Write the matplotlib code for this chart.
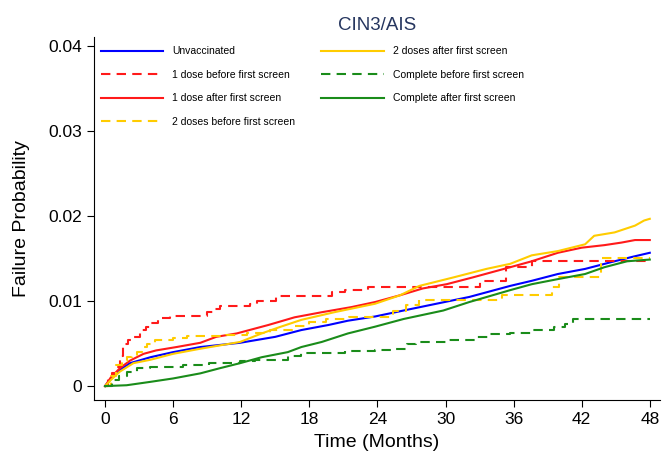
import matplotlib
matplotlib.use("Agg")
import matplotlib.pyplot as plt

plt.rcParams['font.family'] = ['Liberation Sans', 'DejaVu Sans']

# Unvaccinated (solid blue)
unvac_t = [0, 0.5, 1.3, 2.2, 4, 6, 8.4, 11.9, 15, 17.3, 19.7, 21.4, 23.8, 26.3, 29.2, 32.1,
           35.7, 37.6, 39.9, 42.3, 44.6, 46.4, 48]
unvac_p = [0, 0.0008, 0.0019, 0.0027, 0.0034, 0.0040, 0.0046, 0.0051, 0.0058, 0.0066, 0.0072,
           0.0077, 0.0082, 0.0089, 0.0097, 0.0105, 0.0118, 0.0124, 0.0132, 0.0138, 0.0146,
           0.0152, 0.0157]

# 1 dose before first screen (dashed red, steps)
d1b_t = [0, 0.3, 0.6, 1.0, 1.3, 1.6, 2.0, 2.4, 3.1, 3.6, 4.0, 4.7, 5.7, 9.0, 9.6, 10.1, 12.8,
         13.4, 15.1, 20.0, 21.1, 23.2, 33.0, 35.3, 37.6, 48]
d1b_p = [0, 0.0008, 0.0015, 0.0023, 0.0035, 0.0050, 0.0054, 0.0058, 0.0066, 0.0070, 0.0074,
         0.0080, 0.0082, 0.0087, 0.0091, 0.0094, 0.0097, 0.0100, 0.0106, 0.0111, 0.0113,
         0.0117, 0.0124, 0.0140, 0.0147, 0.0147]

# 1 dose after first screen (solid red)
d1a_t = [0, 0.5, 1.3, 2.2, 3.4, 4.5, 6.3, 8.4, 9.8, 11.6, 14.4, 16.7, 19.1, 21.7, 23.8, 26, 28,
         30.1, 32.4, 35.7, 37.6, 39.9, 42, 44, 45.5, 46.7, 48]
d1a_p = [0, 0.0010, 0.0021, 0.0030, 0.0038, 0.0042, 0.0046, 0.0051, 0.0058, 0.0062, 0.0072,
         0.0081, 0.0087, 0.0093, 0.0099, 0.0107, 0.0115, 0.0120, 0.0128, 0.0140, 0.0147,
         0.0157, 0.0163, 0.0166, 0.0169, 0.0172, 0.0172]

# 2 doses before first screen (dashed yellow, steps)
d2b_t = [0, 0.5, 1.0, 1.5, 1.9, 2.4, 2.8, 3.3, 3.7, 4.4, 6.0, 7.2, 10.7, 12.5, 14.5, 16.5, 18.0,
         19.5, 21.5, 25.4, 26.5, 27.7, 35.0, 39.4, 40.0, 43.7, 48]
d2b_p = [0, 0.0012, 0.0025, 0.0030, 0.0034, 0.0037, 0.0040, 0.0046, 0.0050, 0.0054, 0.0057,
         0.0059, 0.0060, 0.0062, 0.0066, 0.0071, 0.0075, 0.0079, 0.0081, 0.0089, 0.0095,
         0.0101, 0.0107, 0.0117, 0.0129, 0.0151, 0.0151]

# 2 doses after first screen (solid yellow)
d2a_t = [0, 0.5, 1.3, 2.5, 4, 6, 8.4, 11.9, 13.8, 15.5, 17.3, 20.2, 23.8, 26, 27.7, 30.7, 33.6,
         35.7, 37.6, 39.9, 42.3, 43.1, 44.9, 46.7, 47.5, 48]
d2a_p = [0, 0.0007, 0.0017, 0.0027, 0.0031, 0.0038, 0.0044, 0.0052, 0.0062, 0.0070, 0.0078,
         0.0087, 0.0097, 0.0107, 0.0118, 0.0128, 0.0138, 0.0144, 0.0154, 0.0159, 0.0167,
         0.0177, 0.0181, 0.0189, 0.0195, 0.0197]

# Complete before first screen (dashed green, steps)
cb_t = [0, 0.6, 1.2, 1.9, 2.8, 4.0, 6.9, 9.2, 11.9, 13.2, 16.1, 17.3, 21.1, 23.8, 25.4, 26.6,
        27.4, 30.1, 32.7, 33.9, 35.7, 37.6, 39.6, 40.5, 41.2, 48]
cb_p = [0, 0.0007, 0.0012, 0.0017, 0.0021, 0.0023, 0.0025, 0.0027, 0.0029, 0.0031, 0.0036,
        0.0039, 0.0041, 0.0042, 0.0044, 0.0049, 0.0052, 0.0054, 0.0058, 0.0061, 0.0062,
        0.0066, 0.0070, 0.0073, 0.0079, 0.0079]

# Complete after first screen (solid green)
ca_t = [0, 1.9, 4, 6, 8.4, 10.1, 11.9, 13.8, 16.1, 17.3, 19.1, 21.4, 23.8, 26.3, 29.8, 32.1,
        35.7, 37.6, 39.9, 42.3, 44, 46, 48]
ca_p = [0, 0.0001, 0.0005, 0.0009, 0.0015, 0.0021, 0.0027, 0.0034, 0.0040, 0.0046, 0.0052,
        0.0062, 0.0070, 0.0079, 0.0089, 0.0099, 0.0113, 0.0120, 0.0126, 0.0132, 0.0140,
        0.0147, 0.0149]

x_ticks = [0, 6, 12, 18, 24, 30, 36, 42, 48]
y_ticks = [0, 0.01, 0.02, 0.03, 0.04]
y_labels = ['0', '0.01', '0.02', '0.03', '0.04']

blue = '#0000ff'
red = '#ff1a1a'
yellow = '#ffcc00'
green = '#1a8c1a'
dash = (0, (4.5, 3))
lw = 1.5

fig = plt.figure(figsize=(6.64, 4.58), dpi=100)
ax = fig.add_axes([0.1416, 0.1266, 0.994 - 0.1416, 0.919 - 0.1266])

ax.plot(unvac_t, unvac_p, color=blue, lw=lw, label='Unvaccinated')
ax.plot(d1b_t, d1b_p, color=red, lw=lw, ls=dash, drawstyle='steps-post',
        label='1 dose before first screen')
ax.plot(d1a_t, d1a_p, color=red, lw=lw, label='1 dose after first screen')
ax.plot(d2b_t, d2b_p, color=yellow, lw=lw, ls=dash, drawstyle='steps-post',
        label='2 doses before first screen')
ax.plot(d2a_t, d2a_p, color=yellow, lw=lw, label='2 doses after first screen')
ax.plot(cb_t, cb_p, color=green, lw=lw, ls=dash, drawstyle='steps-post',
        label='Complete before first screen')
ax.plot(ca_t, ca_p, color=green, lw=lw, label='Complete after first screen')

ax.set_xlim(-0.97, 48.9)
ax.set_ylim(-0.00164, 0.0411)
ax.set_xticks(x_ticks)
ax.set_yticks(y_ticks)
ax.set_yticklabels(y_labels)
ax.tick_params(labelsize=12.5, length=5, width=0.8, direction='out', pad=3.5)
for s in ['top', 'right']:
    ax.spines[s].set_visible(False)
for s in ['left', 'bottom']:
    ax.spines[s].set_linewidth(0.8)

ax.set_xlabel('Time (Months)', fontsize=14, labelpad=5)
ax.set_ylabel('Failure Probability', fontsize=14, labelpad=13)
ax.set_title('CIN3/AIS', fontsize=13.5, color='#26365f', pad=5)

ax.legend(loc='upper left', bbox_to_anchor=(0.012, 0.975), ncol=2, frameon=False,
          fontsize=7.5, handlelength=6.0, handletextpad=0.85, columnspacing=2.5,
          labelspacing=1.3, borderpad=0, borderaxespad=0)

fig.savefig('out.png', dpi=100)
